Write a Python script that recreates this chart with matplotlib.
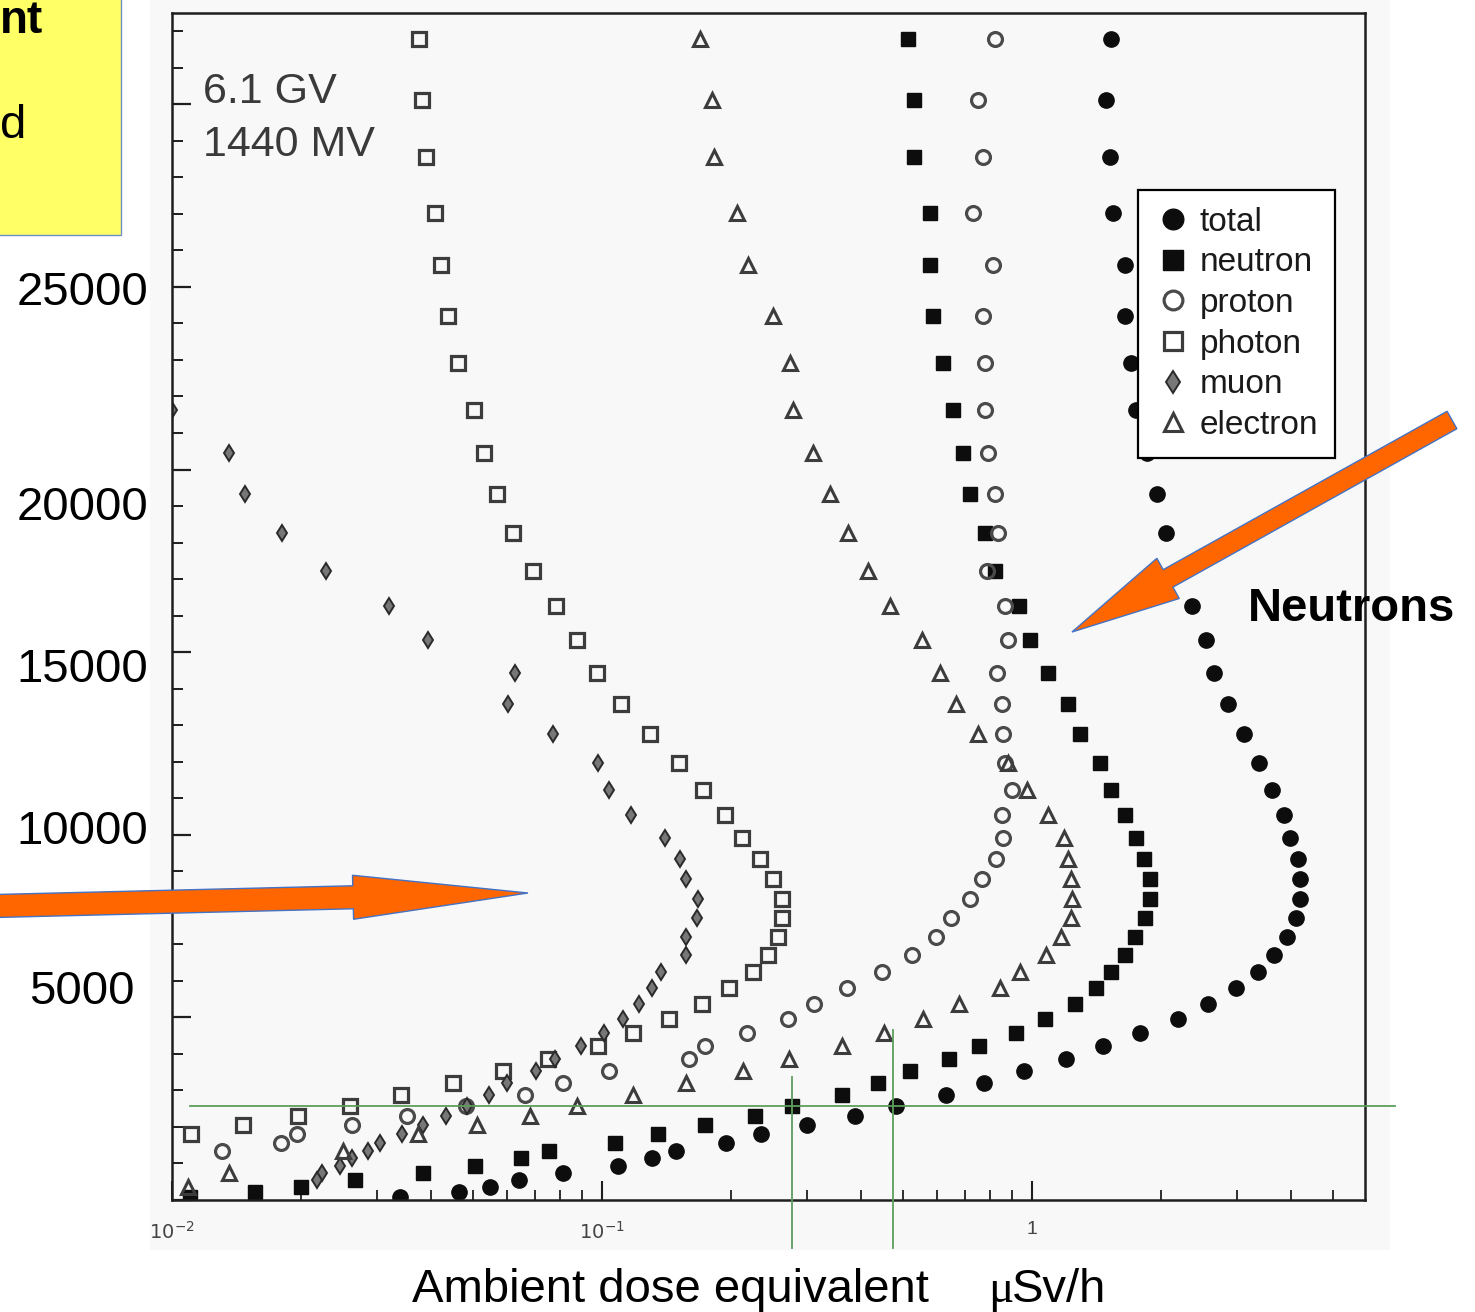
import numpy as np
import matplotlib
matplotlib.use("Agg")
import matplotlib.pyplot as plt
from matplotlib.patches import Rectangle, FancyArrow
from matplotlib.ticker import MultipleLocator, LogLocator, NullFormatter, FixedLocator, FixedFormatter

plt.rcParams['font.family'] = ['Liberation Sans', 'DejaVu Sans']

nan = np.nan

# Altitude levels (km, original axis) shared by all series
altitude_km = [12.71, 12.05, 11.42, 10.81, 10.24, 9.68, 9.17, 8.65, 8.18, 7.73,
               7.31, 6.89, 6.51, 6.13, 5.77, 5.43, 5.10, 4.79, 4.49, 4.22,
               3.96, 3.73, 3.52, 3.30, 3.09, 2.88, 2.68, 2.50, 2.32, 2.15,
               1.98, 1.83, 1.69, 1.54, 1.41, 1.28, 1.15, 1.03, 0.92, 0.82,
               0.72, 0.62, 0.54, 0.46, 0.37, 0.30, 0.22, 0.14, 0.09, 0.03]

# Ambient dose equivalent rate, uSv/h
total = [1.53, 1.49, 1.52, 1.54, 1.65, 1.65, 1.70, 1.75, 1.85, 1.95,
         2.05, 2.17, 2.36, 2.54, 2.65, 2.86, 3.11, 3.37, 3.61, 3.85,
         3.98, 4.16, 4.20, 4.20, 4.11, 3.92, 3.65, 3.35, 2.98, 2.57,
         2.19, 1.78, 1.46, 1.20, 0.958, 0.774, 0.631, 0.483, 0.388, 0.300,
         0.234, 0.194, 0.149, 0.131, 0.109, 0.0812, 0.0641, 0.0549, 0.0465, 0.0339]

neutron = [0.515, 0.532, 0.532, 0.579, 0.579, 0.589, 0.621, 0.655, 0.691, 0.718,
           0.778, 0.820, 0.933, 0.989, 1.09, 1.21, 1.29, 1.44, 1.53, 1.65,
           1.75, 1.82, 1.88, 1.88, 1.83, 1.74, 1.65, 1.53, 1.41, 1.26,
           1.07, 0.918, 0.753, 0.641, 0.520, 0.439, 0.361, 0.277, 0.227, 0.174,
           0.135, 0.107, 0.0753, 0.0648, 0.0507, 0.0383, 0.0267, 0.0199, 0.0156, 0.0110]

proton = [0.820, 0.749, 0.769, 0.729, 0.812, 0.769, 0.778, 0.778, 0.790, 0.820,
          0.834, 0.786, 0.865, 0.880, 0.829, 0.852, 0.856, 0.865, 0.899, 0.852,
          0.856, 0.825, 0.765, 0.718, 0.648, 0.598, 0.526, 0.448, 0.371, 0.311,
          0.271, 0.217, 0.174, 0.159, 0.104, 0.0812, 0.0662, 0.0483, 0.0352, 0.0262,
          0.0195, 0.0179, 0.0131, nan, nan, nan, nan, nan, nan, nan]

photon = [0.0375, 0.0381, 0.0390, 0.0409, 0.0422, 0.0438, 0.0463, 0.0504, 0.0532, 0.0570,
          0.0621, 0.0691, 0.0782, 0.0875, 0.0973, 0.111, 0.129, 0.151, 0.172, 0.193,
          0.212, 0.233, 0.250, 0.262, 0.262, 0.257, 0.243, 0.225, 0.197, 0.171,
          0.143, 0.118, 0.0979, 0.0749, 0.0589, 0.0450, 0.0341, 0.0259, 0.0196, 0.0146,
          0.0111, nan, nan, nan, nan, nan, nan, nan, nan, nan]

muon = [nan, nan, nan, nan, nan, nan, nan, 0.0100, 0.0136, 0.0148,
        0.0180, 0.0228, 0.0320, 0.0394, 0.0628, 0.0605, 0.0769, 0.0979, 0.104, 0.117,
        0.140, 0.152, 0.157, 0.167, 0.166, 0.157, 0.157, 0.137, 0.131, 0.122,
        0.112, 0.101, 0.0894, 0.0778, 0.0702, 0.0601, 0.0546, 0.0485, 0.0434, 0.0383,
        0.0343, 0.0305, 0.0286, 0.0262, 0.0246, 0.0223, 0.0217, nan, nan, nan]

electron = [0.169, 0.180, 0.182, 0.206, 0.219, 0.250, 0.274, 0.278, 0.310, 0.339,
            0.373, 0.416, 0.468, 0.555, 0.611, 0.666, 0.749, 0.880, 0.974, 1.09,
            1.19, 1.21, 1.23, 1.24, 1.23, 1.17, 1.08, 0.938, 0.843, 0.677,
            0.558, 0.453, 0.361, 0.272, 0.213, 0.157, 0.118, 0.0875, 0.0680, 0.0512,
            0.0373, nan, 0.0250, nan, nan, 0.0136, nan, 0.0109, nan, nan]

series_labels = ['total', 'neutron', 'proton', 'photon', 'muon', 'electron']
x_ticks = [0.01, 0.1, 1]
x_tick_labels = [r'$10^{-2}$', r'$10^{-1}$', '1']
overlay_alt_labels = ['25000', '20000', '15000', '10000', '5000']

W, H = 1475, 1312
fig = plt.figure(figsize=(W / 100, H / 100), dpi=100)
fig.patch.set_facecolor('white')

# background (scan area)
bg = fig.add_axes([0, 0, 1, 1], zorder=0)
bg.set_xlim(0, W); bg.set_ylim(H, 0); bg.axis('off')
bg.add_patch(Rectangle((150, 0), 1240, 1250, fc='#f8f8f8', ec='none'))

# main axes
ax = fig.add_axes([172 / W, 1 - 1200 / H, (1365 - 172) / W, (1200 - 13) / H], zorder=1)
ax.set_facecolor('none')
ax.set_xscale('log')
ax.set_xlim(0.01, 5.95)
ax.set_ylim(0, 13)

ink = '#0d0d0d'
h_tot, = ax.plot(total, altitude_km, 'o', ms=11, color=ink, ls='none', label=series_labels[0])
h_neu, = ax.plot(neutron, altitude_km, 's', ms=10.5, color=ink, ls='none', label=series_labels[1])
h_pro, = ax.plot(proton, altitude_km, 'o', ms=10, mfc='none', mec='#4a4a4a', mew=2.3, ls='none', label=series_labels[2])
h_pho, = ax.plot(photon, altitude_km, 's', ms=10, mfc='none', mec='#3c3c3c', mew=2.3, ls='none', label=series_labels[3])
h_muo, = ax.plot(muon, altitude_km, 'd', ms=8.5, mfc='#777777', mec='#2a2a2a', mew=1.4, ls='none', label=series_labels[4])
h_ele, = ax.plot(electron, altitude_km, '^', ms=10, mfc='none', mec='#3c3c3c', mew=2.2, ls='none', label=series_labels[5])

for s in ax.spines.values():
    s.set_linewidth(1.8)
    s.set_color('#1e1e1e')

ax.yaxis.set_major_locator(MultipleLocator(2))
ax.yaxis.set_minor_locator(MultipleLocator(0.4))
ax.tick_params(axis='y', which='major', direction='in', length=14, width=1.6,
               left=True, right=False, labelleft=False, color='#1e1e1e')
ax.tick_params(axis='y', which='minor', direction='in', length=8, width=1.4,
               left=True, right=False, color='#1e1e1e')
ax.xaxis.set_major_locator(FixedLocator(x_ticks))
ax.xaxis.set_major_formatter(FixedFormatter(x_tick_labels))
ax.xaxis.set_minor_locator(LogLocator(base=10, subs=np.arange(2, 10)))
ax.xaxis.set_minor_formatter(NullFormatter())
ax.tick_params(axis='x', which='major', direction='in', length=14, width=1.5, top=False,
               labelsize=14, labelcolor='#444444', pad=15, color='#1e1e1e')
ax.tick_params(axis='x', which='minor', direction='in', length=7, width=1.3, top=False,
               color='#1e1e1e')

leg = ax.legend(handles=[h_tot, h_neu, h_pro, h_pho, h_muo, h_ele],
                loc='upper left', bbox_to_anchor=(1138 / W, 1 - 190 / H),
                bbox_transform=fig.transFigure, fontsize=24, frameon=True,
                fancybox=False, edgecolor='black', framealpha=1, borderpad=0.5,
                labelspacing=0.29, handlelength=1.1, handletextpad=0.25,
                borderaxespad=0, markerscale=1.35)
leg.get_frame().set_linewidth(1.6)
for t in leg.get_texts():
    t.set_color('#1a1a1a')

# overlay layer (annotations drawn on top of the scanned chart)
ov = fig.add_axes([0, 0, 1, 1], zorder=3)
ov.set_xlim(0, W); ov.set_ylim(H, 0); ov.axis('off')
ov.text(203, 92, '6.1 GV', fontsize=31, color='#3a3a3a', ha='left', va='center')
ov.text(203, 145, '1440 MV', fontsize=31, color='#3a3a3a', ha='left', va='center')

# yellow note box (cropped at the figure edge)
ov.add_patch(Rectangle((-2, -2), 123, 237, fc='#FFFF66', ec='#7290c8', lw=1))
ov.text(0, 33, 'nt', fontsize=33, fontweight='bold', ha='left', va='baseline')
ov.text(0, 138, 'd', fontsize=34, ha='left', va='baseline')

# overlaid altitude labels
label_pos = [(148, 305), (148, 520), (148, 682), (148, 844), (135, 1004)]
for txt, (xp, yp) in zip(overlay_alt_labels, label_pos):
    ov.text(xp, yp, txt, fontsize=34, ha='right', va='baseline', color='black')

# x label
ov.text(412, 1302, 'Ambient dose equivalent', fontsize=34, ha='left', va='baseline')
ov.text(988, 1302, 'μ', fontsize=34, ha='left', va='baseline', family=['Liberation Serif', 'DejaVu Serif'])
ov.text(1012, 1302, 'Sv/h', fontsize=34, ha='left', va='baseline')

# Neutrons annotation
ov.text(1248, 621, 'Neutrons', fontsize=34, fontweight='bold', ha='left', va='baseline')

# orange arrows
ov.add_patch(FancyArrow(-5, 906, 533, -13, width=23, head_width=44, head_length=175,
                        length_includes_head=True, fc='#FF6600', ec='#4472C4', lw=1))
ov.add_patch(FancyArrow(1452, 420, -380, 212, width=20, head_width=46, head_length=110,
                        length_includes_head=True, fc='#FF6600', ec='#4472C4', lw=1))

# green guide lines
gcol = '#5c9e5c'
ov.plot([190, 1395], [1106, 1106], color=gcol, lw=1.3)
ov.plot([792, 792], [1077, 1248], color=gcol, lw=1.3)
ov.plot([893, 893], [1030, 1248], color=gcol, lw=1.3)

fig.savefig('out.png', dpi=100)
